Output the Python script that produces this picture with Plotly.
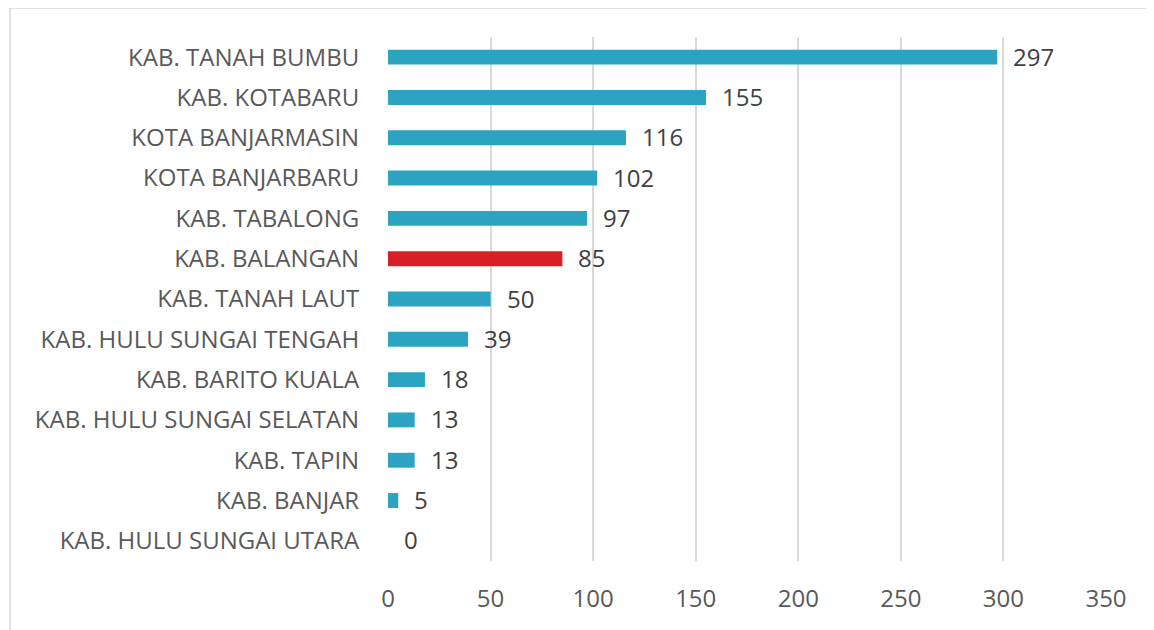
import plotly.graph_objects as go

categories = ["KAB. TANAH BUMBU", "KAB. KOTABARU", "KOTA BANJARMASIN", "KOTA BANJARBARU",
              "KAB. TABALONG", "KAB. BALANGAN", "KAB. TANAH LAUT", "KAB. HULU SUNGAI TENGAH",
              "KAB. BARITO KUALA", "KAB. HULU SUNGAI SELATAN", "KAB. TAPIN", "KAB. BANJAR",
              "KAB. HULU SUNGAI UTARA"]
values = [297, 155, 116, 102, 97, 85, 50, 39, 18, 13, 13, 5, 0]
highlight = "KAB. BALANGAN"
x_ticks = [0, 50, 100, 150, 200, 250, 300, 350]

BLUE = "#2CA3C0"
RED = "#D91F26"
colors = [RED if c == highlight else BLUE for c in categories]
FONT = "Open Sans"

fig = go.Figure()
fig.add_trace(go.Bar(
    x=values, y=categories, orientation="h",
    marker=dict(color=colors, line=dict(width=0)),
    width=0.37, hoverinfo="skip",
))

for c, v in zip(categories, values):
    fig.add_annotation(x=v, y=c, text=str(v), showarrow=False,
                       xanchor="left", xshift=14, yshift=1,
                       font=dict(family=FONT, size=24, color="#404040"))

# page is rendered with an 8px body offset
OFF = 8
W, H = 1154, 630
L, R, T, B = 388 - OFF, 48 + OFF, 37 - OFF, 69 + OFF
pw, ph = W - L - R, H - T - B

def px_x(p):
    return (p - OFF - L) / pw

def px_y(p):
    return (H - B - (p - OFF)) / ph

fig.add_shape(type="rect", xref="paper", yref="paper",
              x0=px_x(10), x1=px_x(1180), y0=px_y(8), y1=px_y(680),
              line=dict(color="#D9D9D9", width=1.5), fillcolor="rgba(0,0,0,0)", layer="below")

fig.update_layout(
    width=W, height=H,
    margin=dict(l=L, r=R, t=T, b=B, pad=0),
    paper_bgcolor="white", plot_bgcolor="white",
    showlegend=False,
    font=dict(family=FONT, color="#595959"),
    xaxis=dict(range=[0, 350], tickvals=x_ticks, showgrid=True, gridcolor="#D9D9D9",
               gridwidth=1.5, zeroline=False, showline=False,
               ticks="outside", ticklen=16, tickcolor="rgba(0,0,0,0)",
               tickfont=dict(family=FONT, size=24, color="#595959")),
    yaxis=dict(autorange="reversed", showgrid=False, zeroline=False, showline=False,
               ticks="outside", ticklen=23, tickcolor="rgba(0,0,0,0)",
               tickfont=dict(family=FONT, size=24, color="#595959")),
    bargap=0.6,
)

fig.write_html("out.html", config={"displayModeBar": False})
